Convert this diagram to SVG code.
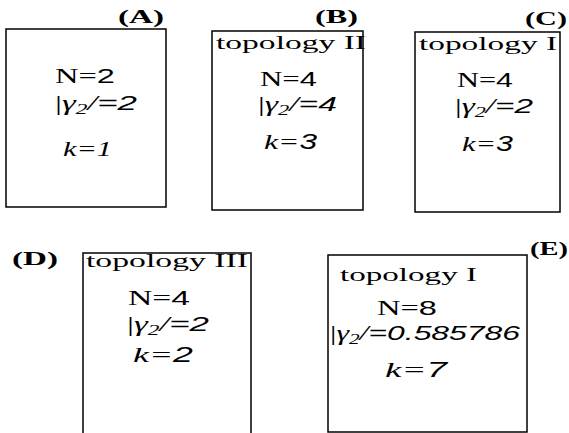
<svg xmlns="http://www.w3.org/2000/svg" width="569" height="433" viewBox="0 0 569 433">
<style>
rect.box{fill:#fff;stroke:#000;stroke-width:1.5}
text{fill:#000;font-family:"Liberation Serif","Times New Roman",serif;font-size:21px}
.lbl{font-weight:bold;font-size:18px}
.topo{font-size:18px}
.k{font-size:22px;font-style:italic}
.s{font-family:"Liberation Sans",Arial,sans-serif}
.i{font-style:italic}
.sub{font-size:14px;font-style:italic}
</style>
<rect width="569" height="433" fill="#fff"/>
<g id="nodeA">
<rect class="box" x="6" y="29" width="160" height="178"/>
<text class="lbl" x="118" y="23" textLength="46" lengthAdjust="spacingAndGlyphs">(A)</text>
<text x="55" y="83" textLength="60" lengthAdjust="spacingAndGlyphs">N=<tspan class="s">2</tspan></text>
<text x="55" y="110" textLength="82" lengthAdjust="spacingAndGlyphs">|<tspan class="i">γ</tspan><tspan class="sub" dy="4">2</tspan><tspan class="i" dy="-4">/</tspan><tspan class="s i">=2</tspan></text>
<text class="k" x="63" y="156" textLength="49" lengthAdjust="spacingAndGlyphs">k=1</text>
</g>
<g id="nodeB">
<rect class="box" x="212" y="31" width="151" height="179"/>
<text class="lbl" x="315" y="23" textLength="43" lengthAdjust="spacingAndGlyphs">(B)</text>
<text class="topo" x="216" y="49" textLength="150" lengthAdjust="spacingAndGlyphs">topology II</text>
<text x="260" y="86" textLength="57" lengthAdjust="spacingAndGlyphs">N=<tspan class="s">4</tspan></text>
<text x="258" y="111" textLength="79" lengthAdjust="spacingAndGlyphs">|<tspan class="i">γ</tspan><tspan class="sub" dy="4">2</tspan><tspan class="i" dy="-4">/</tspan><tspan class="s i">=4</tspan></text>
<text class="k" x="264" y="149" textLength="53" lengthAdjust="spacingAndGlyphs">k=<tspan class="s">3</tspan></text>
</g>
<g id="nodeC">
<rect class="box" x="415" y="32" width="145" height="180"/>
<text class="lbl" x="525" y="25" textLength="42" lengthAdjust="spacingAndGlyphs">(C)</text>
<text class="topo" x="419" y="50" textLength="138" lengthAdjust="spacingAndGlyphs">topology I</text>
<text x="457" y="87" textLength="56" lengthAdjust="spacingAndGlyphs">N=<tspan class="s">4</tspan></text>
<text x="455" y="113" textLength="78" lengthAdjust="spacingAndGlyphs">|<tspan class="i">γ</tspan><tspan class="sub" dy="4">2</tspan><tspan class="i" dy="-4">/</tspan><tspan class="s i">=2</tspan></text>
<text class="k" x="462" y="151" textLength="51" lengthAdjust="spacingAndGlyphs">k=<tspan class="s">3</tspan></text>
</g>
<g id="nodeD">
<rect class="box" x="83" y="253" width="168" height="190"/>
<text class="lbl" x="12" y="265" textLength="46" lengthAdjust="spacingAndGlyphs">(D)</text>
<text class="topo" x="86" y="267" textLength="162" lengthAdjust="spacingAndGlyphs">topology III</text>
<text x="128" y="305" textLength="62" lengthAdjust="spacingAndGlyphs">N=<tspan class="s">4</tspan></text>
<text x="127" y="331" textLength="82" lengthAdjust="spacingAndGlyphs">|<tspan class="i">γ</tspan><tspan class="sub" dy="4">2</tspan><tspan class="i" dy="-4">/</tspan><tspan class="s i">=2</tspan></text>
<text class="k" x="133" y="362" textLength="60" lengthAdjust="spacingAndGlyphs">k=<tspan class="s">2</tspan></text>
</g>
<g id="nodeE">
<rect class="box" x="328" y="255" width="199" height="177"/>
<text class="lbl" x="530" y="255" textLength="38" lengthAdjust="spacingAndGlyphs">(E)</text>
<text class="topo" x="340" y="281" textLength="137" lengthAdjust="spacingAndGlyphs">topology I</text>
<text x="377" y="315" textLength="60" lengthAdjust="spacingAndGlyphs">N=<tspan class="s">8</tspan></text>
<text x="330" y="340" textLength="190" lengthAdjust="spacingAndGlyphs">|<tspan class="i">γ</tspan><tspan class="sub" dy="4">2</tspan><tspan class="i" dy="-4">/</tspan><tspan class="s i">=0.585786</tspan></text>
<text class="k" x="385" y="377" textLength="62" lengthAdjust="spacingAndGlyphs">k=<tspan class="s">7</tspan></text>
</g>
</svg>
